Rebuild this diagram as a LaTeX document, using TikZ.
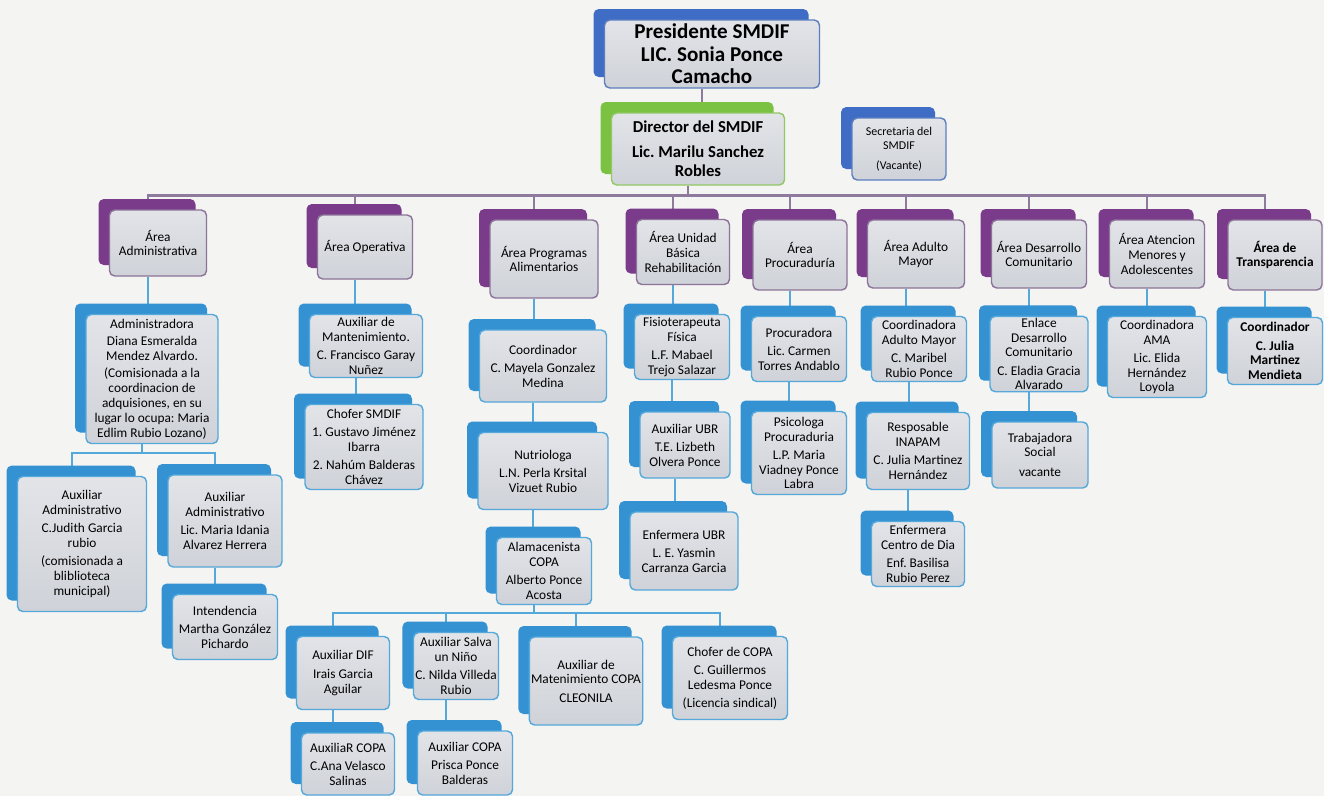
\documentclass[tikz,border=0pt]{standalone}
\usepackage{fontspec}
\setmainfont{Carlito}
\usepackage{xcolor}
\usepackage{tikz}
\usetikzlibrary{shadows}
\frenchspacing

\definecolor{paper}{HTML}{F4F4F2}
\definecolor{face}{HTML}{CFD2D8}
\definecolor{faceTop}{HTML}{E2E4E8}
\definecolor{staffBack}{HTML}{3592D2}
\definecolor{staffLine}{HTML}{55A8DA}
\definecolor{areaBack}{HTML}{7A3B8B}
\definecolor{areaLine}{HTML}{8C7399}
\definecolor{presBack}{HTML}{3F6CC4}
\definecolor{presLine}{HTML}{5C7FBE}
\definecolor{dirBack}{HTML}{7BC142}
\definecolor{dirLine}{HTML}{92C866}
\definecolor{busLine}{HTML}{8D7A9C}

\pgfdeclarelayer{paperlayer}
\pgfdeclarelayer{wires}
\pgfsetlayers{paperlayer,wires,main}

\begin{document}
\begin{tikzpicture}[x=0.02cm, y=-0.02cm,
    unit/.style={draw=#1Line, line width=0.8pt, rounded corners=3pt,
      top color=faceTop, bottom color=face, align=center, inner sep=1pt,
      font=\fontsize{7.6}{8.4}\selectfont,
      copy shadow={shadow xshift=-0.22cm, shadow yshift=0.22cm, fill=#1Back, draw=none}},
    staff/.style={unit=staff},
    area/.style={unit=area},
    sz/.style 2 args={minimum width=#1*0.02cm, minimum height=#2*0.02cm},
    link/.style={staffLine, line width=1pt},
    bus/.style={busLine, line width=1.5pt}]

    \useasboundingbox (0,0) rectangle (1324,796);
    \begin{pgfonlayer}{paperlayer}
        \fill[paper] (0,0) rectangle (1324,796);
    \end{pgfonlayer}

    % Presidencia y direccion
    \node[unit=pres, sz={215}{68}, font=\fontsize{12}{12.8}\selectfont\bfseries] (pres) at (712,54)
        {Presidente SMDIF\\ LIC. Sonia Ponce\\ Camacho};
    \node[unit=dir, sz={173}{72}, font=\fontsize{9.5}{11}\selectfont\bfseries] (dir) at (698,149)
        {Director del SMDIF\\[3pt] Lic. Marilu Sanchez\\ Robles};
    \node[unit=pres, sz={94}{62}, font=\fontsize{6.8}{8}\selectfont] (sec) at (899,149)
        {Secretaria del\\ SMDIF\\[3pt] (Vacante)};

    % Areas
    \node[area, sz={97}{66}] (aAdm) at (158,243) {Área\\ Administrativa};
    \node[area, sz={95}{64}] (aOpe) at (365,247) {Área Operativa};
    \node[area, sz={108}{78}] (aPro) at (544,259) {Área Programas\\ Alimentarios};
    \node[area, sz={93}{65}] (aUbr) at (683,252) {Área Unidad\\ Básica\\ Rehabilitación};
    \node[area, sz={94}{70}] (aPrc) at (800,255) {Área\\ Procuraduría};
    \node[area, sz={97}{68}] (aAdu) at (916,254) {Área Adulto\\ Mayor};
    \node[area, sz={95}{68}] (aDes) at (1039,254) {Área Desarrollo\\ Comunitario};
    \node[area, sz={95}{68}] (aAte) at (1157,254) {Área Atencion\\ Menores y\\ Adolescentes};
    \node[area, sz={94}{70}, font=\fontsize{7.6}{8.4}\selectfont\bfseries] (aTra) at (1275,255) {Área de\\ Transparencia};

    % Area administrativa
    \node[staff, sz={132}{129}] (sAdm) at (152,379)
        {Administradora\\[1.5pt] Diana Esmeralda\\ Mendez Alvardo.\\[1.5pt] (Comisionada a la\\ coordinacion de\\ adquisiones, en su\\ lugar lo ocupa: Maria\\ Edlim Rubio Lozano)};
    \node[staff, sz={129}{135}] (sJud) at (82,544)
        {Auxiliar\\ Administrativo\\[2pt] C.Judith Garcia\\ rubio\\[2pt] (comisionada a\\ bliblioteca\\ municipal)};
    \node[staff, sz={114}{92}] (sIda) at (225,521)
        {Auxiliar\\ Administrativo\\[2pt] Lic. Maria Idania\\ Alvarez Herrera};
    \node[staff, sz={105}{65}] (sInt) at (225,627)
        {Intendencia\\[2pt] Martha González\\ Pichardo};

    % Area operativa
    \node[staff, sz={113}{63}] (sMan) at (366,346)
        {Auxiliar de\\ Mantenimiento.\\[2pt] C. Francisco Garay\\ Nuñez};
    \node[staff, sz={118}{85}] (sCho) at (364,447)
        {Chofer SMDIF\\[2pt] 1. Gustavo Jiménez\\ Ibarra\\[2pt] 2. Nahúm Balderas\\ Chávez};

    % Programas alimentarios
    \node[staff, sz={127}{72}] (sCoo) at (543,366)
        {Coordinador\\[2pt] C. Mayela Gonzalez\\ Medina};
    \node[staff, sz={130}{77}] (sNut) at (543,471)
        {Nutriologa\\[2pt] L.N. Perla Krsital\\ Vizuet Rubio};
    \node[staff, sz={95}{67}] (sAlm) at (544,571)
        {Alamacenista\\ COPA\\[2pt] Alberto Ponce\\ Acosta};
    \node[staff, sz={93}{73}] (cDif) at (343,673)
        {Auxiliar DIF\\[2pt] Irais Garcia\\ Aguilar};
    \node[staff, sz={83}{67}] (cSal) at (456,666)
        {Auxiliar Salva\\ un Niño\\[2pt] C. Nilda Villeda\\ Rubio};
    \node[staff, sz={113}{88}] (cMan) at (586,681)
        {Auxiliar de\\ Matenimiento COPA\\[2pt] CLEONILA};
    \node[staff, sz={115}{83}] (cCho) at (730,678)
        {Chofer de COPA\\[2pt] C. Guillermos\\ Ledesma Ponce\\[2pt] (Licencia sindical)};
    \node[staff, sz={93}{62}] (cAux) at (348,764)
        {AuxiliaR COPA\\[2pt] C.Ana Velasco\\ Salinas};
    \node[staff, sz={95}{64}] (cAuy) at (465,763)
        {Auxiliar COPA\\[2pt] Prisca Ponce\\ Balderas};

    % Unidad basica de rehabilitacion
    \node[staff, sz={95}{65}] (sFis) at (682,347)
        {Fisioterapeuta\\ Física\\[2pt] L.F. Mabael\\ Trejo Salazar};
    \node[staff, sz={90}{66}] (sAux) at (685,445)
        {Auxiliar UBR\\[2pt] T.E. Lizbeth\\ Olvera Ponce};
    \node[staff, sz={108}{78}] (sEnf) at (684,551)
        {Enfermera UBR\\[2pt] L. E. Yasmin\\ Carranza Garcia};

    % Procuraduria
    \node[staff, sz={95}{65}] (sPrc) at (799,349)
        {Procuradora\\[2pt] Lic. Carmen\\ Torres Andablo};
    \node[staff, sz={95}{83}] (sPsi) at (799,453)
        {Psicologa\\ Procuraduria\\[2pt] L.P. Maria\\ Viadney Ponce\\ Labra};

    % Adulto mayor
    \node[staff, sz={95}{65}] (sCam) at (919,349)
        {Coordinadora\\ Adulto Mayor\\[2pt] C. Maribel\\ Rubio Ponce};
    \node[staff, sz={103}{77}] (sIna) at (918,451)
        {Resposable\\ INAPAM\\[2pt] C. Julia Martinez\\ Hernández};
    \node[staff, sz={93}{65}] (sCdd) at (918,554)
        {Enfermera\\ Centro de Dia\\[2pt] Enf. Basilisa\\ Rubio Perez};

    % Desarrollo comunitario, menores y transparencia
    \node[staff, sz={98}{75}] (sEnl) at (1039,354)
        {Enlace\\ Desarrollo\\ Comunitario\\[2pt] C. Eladia Gracia\\ Alvarado};
    \node[staff, sz={96}{66}] (sTso) at (1040,455)
        {Trabajadora\\ Social\\[3pt] vacante};
    \node[staff, sz={99}{81}] (sAma) at (1157,357)
        {Coordinadora\\ AMA\\[2pt] Lic. Elida\\ Hernández\\ Loyola};
    \node[staff, sz={95}{67}, font=\fontsize{7.6}{8.4}\selectfont\bfseries] (sTra) at (1275,351)
        {Coordinador\\[2pt] C. Julia\\ Martinez\\ Mendieta};

    % Lineas de mando
    \begin{pgfonlayer}{wires}
        \draw[bus] ([xshift=-0.2cm]pres.south) -- ([xshift=-0.2cm]pres.south |- dir.north);
        \draw[bus] ([xshift=-0.2cm]dir.south) -- ++(0,10) coordinate (busTop);
        \foreach \n in {aAdm,aOpe,aPro,aUbr,aPrc,aAdu,aDes,aAte,aTra}
            \draw[bus] (busTop) -| ([xshift=-0.2cm]\n.north);

        \foreach \a/\b in {aAdm/sAdm, aOpe/sMan, sMan/sCho, aPro/sCoo, sCoo/sNut, sNut/sAlm,
                aUbr/sFis, sFis/sAux, sAux/sEnf, aPrc/sPrc, sPrc/sPsi, aAdu/sCam, sCam/sIna,
                sIna/sCdd, aDes/sEnl, sEnl/sTso, aAte/sAma, aTra/sTra, sIda/sInt,
                cDif/cAux, cSal/cAuy}
            \draw[link] ([xshift=-0.2cm]\a.south) -- ([xshift=-0.2cm]\a.south |- \b.north);

        \draw[link] ([xshift=-0.2cm]sAdm.south) -- ++(0,9) coordinate (busAdm);
        \foreach \n in {sJud,sIda}
            \draw[link] (busAdm) -| ([xshift=-0.2cm]\n.north);

        \draw[link] ([xshift=-0.2cm]sAlm.south) -- ++(0,8) coordinate (busCopa);
        \foreach \n in {cDif,cSal,cMan,cCho}
            \draw[link] (busCopa) -| ([xshift=-0.2cm]\n.north);
    \end{pgfonlayer}
\end{tikzpicture}
\end{document}
